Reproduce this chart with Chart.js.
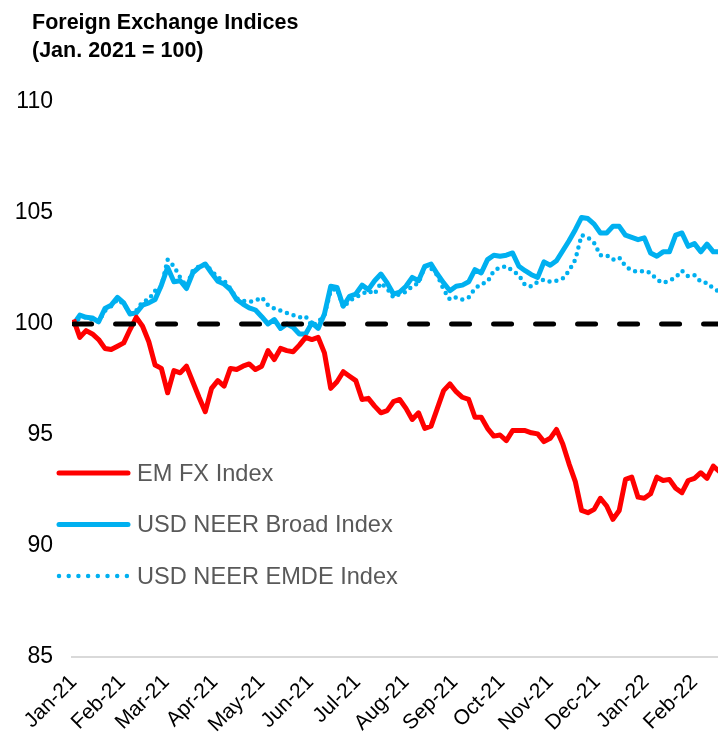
<!DOCTYPE html>
<html>
<head>
<meta charset="utf-8">
<title>Foreign Exchange Indices</title>
<script src="https://cdn.jsdelivr.net/npm/chart.js@4.4.1/dist/chart.umd.min.js"></script>
<style>
  html, body { margin: 0; padding: 0; background: #fff; }
  #wrap { width: 718px; height: 744px; }
</style>
</head>
<body>
<div id="wrap"><canvas id="fxChart" width="718" height="744"></canvas></div>
<script>
// Foreign Exchange Indices (Jan. 2021 = 100)
// one reading every 4 days, starting 1 Jan 2021
const STEP_DAYS = 4;

const titleLines = ['Foreign Exchange Indices', '(Jan. 2021 = 100)'];

const emFx = [
  100.2, 99.4, 99.7, 99.55, 99.3, 98.9, 98.85, 99.0, 99.15, 99.75,
  100.3, 99.9, 99.2, 98.15, 98.0, 96.9, 97.9, 97.8, 98.1, 97.4,
  96.7, 96.05, 97.1, 97.45, 97.2, 98.0, 97.95, 98.1, 98.2, 97.95,
  98.1, 98.8, 98.4, 98.9, 98.8, 98.75, 99.05, 99.4, 99.3, 99.4,
  98.7, 97.1, 97.4, 97.85, 97.65, 97.45, 96.6, 96.65, 96.3, 96.0,
  96.1, 96.5, 96.6, 96.2, 95.7, 96.0, 95.3, 95.4, 96.2, 97.0,
  97.3, 96.95, 96.7, 96.6, 95.8, 95.8, 95.3, 94.95, 95.0, 94.75,
  95.2, 95.2, 95.2, 95.1, 95.05, 94.7, 94.85, 95.25, 94.6, 93.7,
  92.9, 91.6, 91.5, 91.65, 92.15, 91.8, 91.2, 91.6, 93.0, 93.1,
  92.2, 92.15, 92.35, 93.1, 92.95, 93.0, 92.6, 92.4, 92.95, 93.05,
  93.3, 93.05, 93.6, 93.35
];

const usdBroad = [
  100.0, 100.4, 100.3, 100.27, 100.1, 100.7, 100.85, 101.2, 100.95, 100.45,
  100.5, 100.85, 100.95, 101.1, 101.75, 102.55, 101.9, 101.95, 101.6, 102.3,
  102.55, 102.7, 102.3, 101.93, 101.8, 101.55, 101.1, 100.9, 100.73, 100.63,
  100.33, 100.0, 100.2, 99.8, 100.0, 99.85, 99.55, 99.55, 100.05, 99.8,
  100.45, 101.7, 101.65, 100.8, 101.25, 101.35, 101.75, 101.55, 101.95, 102.25,
  101.85, 101.35, 101.44, 101.7, 102.1, 101.95, 102.6, 102.7, 102.25, 101.85,
  101.5, 101.7, 101.75, 101.9, 102.45, 102.3, 102.9, 103.1, 103.05, 103.1,
  103.2, 102.6, 102.4, 102.22, 102.1, 102.8, 102.65, 102.85, 103.3, 103.75,
  104.25, 104.8, 104.75, 104.5, 104.1, 104.1, 104.4, 104.4, 104.0, 103.9,
  103.8, 103.88, 103.2, 103.05, 103.25, 103.25, 104.0, 104.1, 103.5, 103.62,
  103.25, 103.6, 103.25, 103.25
];

const usdEmde = [
  100.0, 100.3, 100.3, 100.2, 100.1, 100.6, 100.8, 101.1, 100.9, 100.5,
  100.6, 101.0, 101.1, 101.5, 101.7, 102.9, 102.6, 102.1, 101.7, 102.4,
  102.6, 102.7, 102.4, 102.1, 101.95, 101.6, 101.15, 101.05, 101.0, 101.05,
  101.2, 100.85, 100.7, 100.6, 100.5, 100.4, 100.3, 100.35, 99.9, 100.1,
  100.4, 101.5, 101.6, 100.75, 101.05, 101.2, 101.35, 101.5, 101.35, 101.85,
  101.6, 101.2, 101.35, 101.45, 101.7, 101.85, 102.6, 102.5, 102.2, 101.55,
  101.1, 101.2, 101.1, 101.2, 101.6, 101.8, 101.9, 102.4, 102.55, 102.6,
  102.4, 102.2, 101.75, 101.7, 101.9, 102.0, 101.9, 101.95, 102.05, 102.4,
  102.9, 104.0, 103.9, 103.65, 103.1, 103.1, 102.9, 103.0, 102.6, 102.4,
  102.35, 102.4, 102.3, 102.0, 101.85, 101.95, 102.1, 102.4, 102.15, 102.2,
  101.9, 101.85, 101.6, 101.45
];

const baseLevel = 100;

// month starts, in days after 1 Jan 2021
const monthDays = [0, 31, 59, 90, 120, 151, 181, 212, 243, 273, 304, 334, 365, 396];
const monthLabels = ['Jan-21', 'Feb-21', 'Mar-21', 'Apr-21', 'May-21', 'Jun-21', 'Jul-21',
  'Aug-21', 'Sep-21', 'Oct-21', 'Nov-21', 'Dec-21', 'Jan-22', 'Feb-22'];

const X_MIN = -1;
const X_MAX = 411;

const FONT = '"Liberation Sans", Arial, sans-serif';

// turn a value list into {x: day, y: value} points
function toPoints(values) {
  return values.map((v, i) => ({ x: i * STEP_DAYS, y: v }));
}

// Title drawn in the top band
const titlePlugin = {
  id: 'titleText',
  afterDraw(chart) {
    const ctx = chart.ctx;
    ctx.save();
    ctx.font = 'bold 21.5px ' + FONT;
    ctx.fillStyle = '#000';
    ctx.textBaseline = 'middle';
    ctx.fillText(titleLines[0], 32, 23);
    ctx.fillText(titleLines[1], 32, 51);
    ctx.restore();
  }
};

// Legend sits inside the plot, lower left
const legendPlugin = {
  id: 'insideLegend',
  afterDraw(chart) {
    const ctx = chart.ctx;
    const items = chart.data.datasets.filter(d => d.inLegend);
    items.forEach((ds, k) => {
      const y = 473 + k * 51.5;
      ctx.save();
      ctx.strokeStyle = ds.borderColor;
      ctx.lineWidth = ds.borderWidth;
      ctx.lineCap = 'round';
      ctx.setLineDash(ds.legendDash || []);
      ctx.beginPath();
      ctx.moveTo(59, y);
      ctx.lineTo(128, y);
      ctx.stroke();
      ctx.setLineDash([]);
      ctx.fillStyle = '#595959';
      ctx.font = '23.6px ' + FONT;
      ctx.textBaseline = 'middle';
      ctx.fillText(ds.label, 137, y + 1);
      ctx.restore();
    });
  }
};

const ctx = document.getElementById('fxChart');

new Chart(ctx, {
  type: 'line',
  data: {
    datasets: [
      {
        label: 'Jan. 2021 = 100',
        data: [{ x: 0, y: baseLevel }, { x: X_MAX, y: baseLevel }],
        borderColor: '#000000',
        borderWidth: 5,
        borderDash: [18, 24],
        borderCapStyle: 'round',
        pointRadius: 0,
        inLegend: false
      },
      {
        label: 'EM FX Index',
        data: toPoints(emFx),
        borderColor: '#FF0000',
        borderWidth: 5,
        borderJoinStyle: 'round',
        pointRadius: 0,
        inLegend: true
      },
      {
        label: 'USD NEER Broad Index',
        data: toPoints(usdBroad),
        borderColor: '#00B0F0',
        borderWidth: 5,
        borderJoinStyle: 'round',
        pointRadius: 0,
        inLegend: true
      },
      {
        label: 'USD NEER EMDE Index',
        data: toPoints(usdEmde),
        borderColor: '#00B0F0',
        borderWidth: 4.5,
        borderDash: [0, 7],
        borderCapStyle: 'round',
        legendDash: [0, 9.7],
        pointRadius: 0,
        inLegend: true
      }
    ]
  },
  options: {
    responsive: false,
    devicePixelRatio: 1,
    animation: false,
    layout: { padding: { top: 102, left: 0, right: 0, bottom: 0 } },
    plugins: {
      legend: { display: false },
      title: { display: false },
      tooltip: { enabled: false }
    },
    scales: {
      x: {
        type: 'linear',
        min: X_MIN,
        max: X_MAX,
        grid: { display: false },
        border: { display: true, color: '#D9D9D9', width: 2 },
        afterBuildTicks: (scale) => {
          scale.ticks = monthDays.map(d => ({ value: d }));
        },
        afterFit: (scale) => {
          scale.height = 87;
          scale.paddingLeft = 0;
          scale.paddingRight = 0;
        },
        ticks: {
          autoSkip: false,
          minRotation: 45,
          maxRotation: 45,
          padding: 5,
          color: '#000',
          font: { family: FONT, size: 21 },
          callback: (value, index) => monthLabels[index]
        }
      },
      y: {
        min: 85,
        max: 110,
        grid: { display: false },
        border: { display: false },
        afterFit: (scale) => {
          scale.width = 72;
          scale.paddingTop = 0;
          scale.paddingBottom = 0;
        },
        ticks: {
          stepSize: 5,
          padding: 11,
          color: '#000',
          font: { family: FONT, size: 23 }
        }
      }
    }
  },
  plugins: [titlePlugin, legendPlugin]
});
</script>
</body>
</html>
